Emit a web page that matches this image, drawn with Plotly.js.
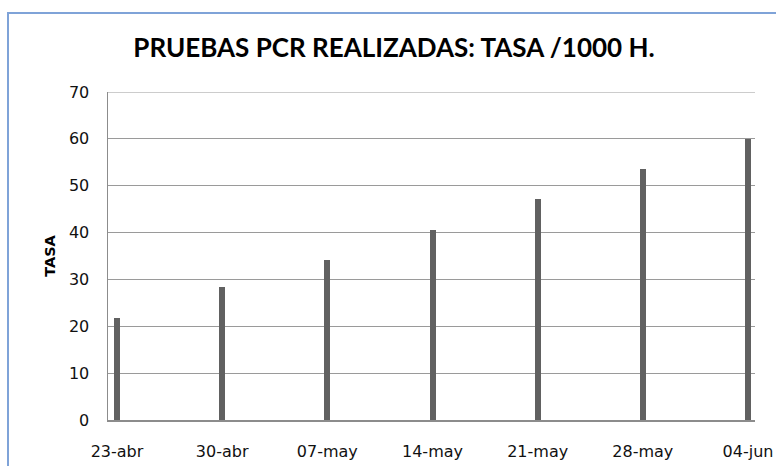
<!DOCTYPE html>
<html>
<head>
<meta charset="utf-8">
<script src="https://cdn.plot.ly/plotly-3.0.1.min.js"></script>
<style>
  html, body { margin: 0; padding: 0; background: #ffffff; overflow: hidden; }
  #wrap { position: relative; width: 776px; height: 466px; }
  #chart { width: 776px; height: 466px; }
  #frame { position: absolute; left: 7px; top: 12px; width: 820px; height: 520px;
           border-left: 2px solid #7fa3d8; border-top: 2px solid #7fa3d8;
           pointer-events: none; }
</style>
</head>
<body>
<div id="wrap">
  <div id="chart"></div>
  <div id="frame"></div>
</div>
<script>
// Data
const dates = ["2020-04-23", "2020-04-30", "2020-05-07", "2020-05-14", "2020-05-21", "2020-05-28", "2020-06-04"];
const tickLabels = ["23-abr", "30-abr", "07-may", "14-may", "21-may", "28-may", "04-jun"];
const tasa = [21.8, 28.4, 34.1, 40.6, 47.2, 53.6, 59.9];
const yMax = 70;

const DAY = 86400000;

const trace = {
  type: "bar",
  x: dates,
  y: tasa,
  width: dates.map(() => 0.4 * DAY),
  marker: { color: "#616161", line: { width: 0 } },
  hoverinfo: "x+y"
};

const layout = {
  width: 776,
  height: 466,
  paper_bgcolor: "#ffffff",
  plot_bgcolor: "#ffffff",
  margin: { l: 108, r: 21, t: 92, b: 46 },
  showlegend: false,
  title: {
    text: "<b>PRUEBAS PCR REALIZADAS: TASA /1000 H.</b>",
    font: { family: "Lato, 'Open Sans', sans-serif", size: 26, color: "#000000" },
    xref: "container", yref: "container",
    x: 394 / 776, y: 1 - 48 / 466,
    xanchor: "center", yanchor: "middle"
  },
  xaxis: {
    type: "date",
    range: ["2020-04-22 09:36", "2020-06-04 11:12"],
    tickmode: "array",
    tickvals: dates,
    ticktext: tickLabels,
    ticks: "",
    showgrid: false,
    zeroline: false,
    showline: true,
    linecolor: "#8c8c8c",
    linewidth: 1.5,
    ticklabelstandoff: 16,
    tickfont: { family: "'DejaVu Sans', Verdana, sans-serif", size: 16, color: "#111111" },
    fixedrange: true
  },
  yaxis: {
    range: [0, yMax],
    tickmode: "linear",
    tick0: 0,
    dtick: 10,
    ticks: "",
    showgrid: true,
    gridcolor: "#9a9a9a",
    gridwidth: 1.2,
    zeroline: false,
    showline: true,
    linecolor: "#8c8c8c",
    linewidth: 1.5,
    ticklabelstandoff: 14,
    tickfont: { family: "'DejaVu Sans', Verdana, sans-serif", size: 16, color: "#111111" },
    title: {
      text: "<b>TASA</b>",
      font: { family: "'DejaVu Sans', Verdana, sans-serif", size: 14.5, color: "#000000" },
      standoff: 10
    },
    fixedrange: true
  },
  shapes: [
    { type: "line", xref: "paper", yref: "y", x0: 0, x1: 1, y0: yMax, y1: yMax,
      line: { color: "#9a9a9a", width: 1.2 }, layer: "below" }
  ],
  bargap: 0
};

Plotly.newPlot("chart", [trace], layout, { displayModeBar: false, staticPlot: true });
</script>
</body>
</html>
